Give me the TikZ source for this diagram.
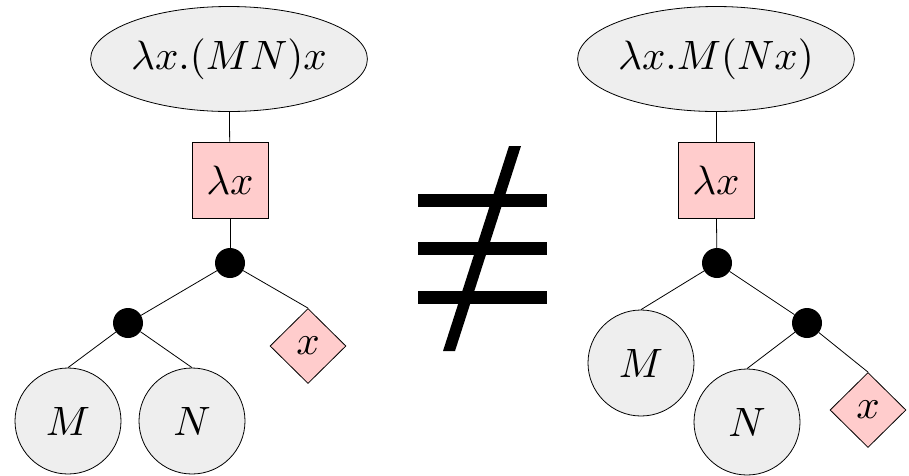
\documentclass[tikz,border=0pt]{standalone}
\usetikzlibrary{shapes.geometric}
\definecolor{termfill}{RGB}{238,238,238}
\definecolor{pinkfill}{RGB}{255,204,204}
\newcommand{\hugelabel}[1]{\scalebox{4.1}{$#1$}}
\begin{document}
\begin{tikzpicture}[x=1pt,y=-1pt,
  term/.style={ellipse,draw,fill=termfill,line width=0.8pt,inner sep=0pt,minimum width=228pt,minimum height=105pt},
  lam/.style={rectangle,draw,fill=pinkfill,line width=0.8pt,inner sep=0pt,minimum size=76pt},
  app/.style={circle,fill=black,inner sep=0pt,minimum size=30pt},
  var/.style={diamond,draw,fill=pinkfill,line width=0.8pt,inner sep=0pt,minimum width=76pt,minimum height=75pt},
  sub/.style={circle,draw,fill=termfill,line width=0.8pt,inner sep=0pt,minimum size=106pt},
  edge/.style={line width=0.8pt}]
\useasboundingbox[fill=white] (0,0) rectangle (909,475);

% left tree
\node[term] (lt) at (229,59) {\hugelabel{\lambda x.(MN)x}};
\node[lam] (ll) at (230,180) {\hugelabel{\lambda x}};
\node[app] (la) at (230,263) {};
\node[app] (lb) at (128,323) {};
\node[var] (lx) at (308,346) {\hugelabel{x}};
\node[sub] (lm) at (68,421) {\hugelabel{M}};
\node[sub] (ln) at (192,421) {\hugelabel{N}};
\draw[edge] (lt) -- (ll);
\draw[edge] (ll) -- (la);
\draw[edge] (la) -- (lb);
\draw[edge] (la) -- (lx.north);
\draw[edge] (lb) -- (lm.north);
\draw[edge] (lb) -- (ln.north);

% right tree
\node[term] (rt) at (716,59) {\hugelabel{\lambda x.M(Nx)}};
\node[lam] (rl) at (716,180) {\hugelabel{\lambda x}};
\node[app] (ra) at (717,263) {};
\node[sub] (rm) at (641,363) {\hugelabel{M}};
\node[app] (rb) at (807,323) {};
\node[sub] (rn) at (747,422) {\hugelabel{N}};
\node[var] (rx) at (868,410) {\hugelabel{x}};
\draw[edge] (rt) -- (rl);
\draw[edge] (rl) -- (ra);
\draw[edge] (ra) -- (rm.north);
\draw[edge] (ra) -- (rb);
\draw[edge] (rb) -- (rn.north);
\draw[edge] (rb) -- (rx.north);

% not-equivalent sign
\fill (418,193.5) rectangle (547,206.5);
\fill (418,241.5) rectangle (547,254.5);
\fill (418,290.5) rectangle (547,303.5);
\fill (509,146) -- (521,146) -- (455,351) -- (443,351) -- cycle;
\end{tikzpicture}
\end{document}
